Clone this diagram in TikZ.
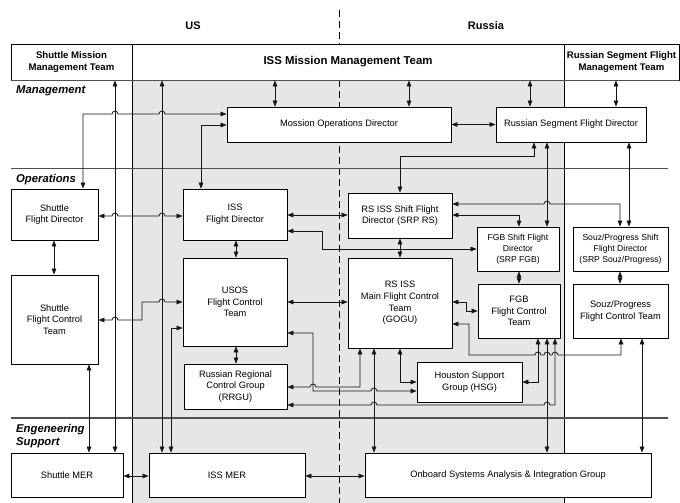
\documentclass[tikz,border=0pt]{standalone}
\usepackage{fontspec}
\setmainfont{Liberation Sans}
\usetikzlibrary{arrows.meta,calc}
\definecolor{Zone}{RGB}{230,230,230}
\definecolor{Rule}{RGB}{80,80,80}
\definecolor{Wire}{RGB}{20,20,20}

%% hop over a crossing line (path going right)
\newcommand{\hopR}[2]{to (#1-3,#2) arc[start angle=180, end angle=360, radius=3]}

\begin{document}
\begin{tikzpicture}[x=1pt, y=-1pt,
    box/.style={draw=black, fill=white, line width=0.8pt, inner sep=1pt, align=center,
        font=\fontsize{9.3}{11.6}\selectfont},
    smallbox/.style={box, font=\fontsize{8.6}{10.8}\selectfont},
    headbox/.style={box, font=\bfseries\fontsize{9.6}{11.4}\selectfont},
    wh/.style 2 args={minimum width=#1pt, minimum height=#2pt},
    link/.style={draw=Wire, line width=0.75pt,
        {Triangle[length=6pt,width=4.6pt]}-{Triangle[length=6pt,width=4.6pt]}},
    zonelabel/.style={inner sep=0pt, font=\bfseries\itshape\fontsize{11.3}{13.4}\selectfont},
    country/.style={inner sep=0pt, font=\bfseries\fontsize{11}{13}\selectfont},
    region/.style={draw=black, line width=0.8pt},
    band/.style={draw=Rule, line width=1.6pt}]

    \useasboundingbox (0,0) rectangle (680,503);

    %% Background
    \fill[Zone] (132,80) rectangle (564,503);
    \draw[region] (132,44) to (132,503);
    \draw[region] (564,44) to (564,503);
    \draw[region, dash pattern=on 7pt off 4pt] (339,10) to (339,44);
    \draw[region, dash pattern=on 7pt off 4pt] (339,80) to (339,503);
    \draw[band] (11,168.5) to (668,168.5);
    \draw[band] (11,418) to (668,418);

    \node[country, anchor=base] (us) at (193,30) {US};
    \node[country, anchor=base] (russia) at (486,30) {Russia};
    \node[zonelabel, anchor=base west] (mgmt) at (16,93.5) {Management};
    \node[zonelabel, anchor=base west] (ops) at (16,182) {Operations};
    \node[zonelabel, anchor=west, align=left] (eng) at (16,436) {Engeneering\\Support};

    %% Teams
    \node[headbox, wh={121}{36}] (smmt) at (71.5,62) {Shuttle Mission\\Management Team};
    \node[box, wh={432}{36}, font=\bfseries\fontsize{11.4}{13}\selectfont] (issmmt) at (348,62) {ISS Mission Management Team};
    \node[headbox, wh={115}{36}] (rsfmt) at (621.5,62) {Russian Segment Flight\\Management Team};
    \draw[band, line width=1.2pt] (smmt.south west) to (rsfmt.south east);

    \node[box, wh={224}{35}] (mod) at (339,124.5) {Mossion Operations Director};
    \node[box, wh={150}{35}] (rsfd) at (571,124.5) {Russian Segment Flight Director};

    \node[box, wh={87}{51}] (sfd) at (54.5,214.5) {Shuttle\\Flight Director};
    \node[box, wh={104}{51}] (issfd) at (235,214.5) {ISS\\Flight Director};
    \node[box, wh={104}{45}] (rssfd) at (400,215.5) {RS ISS Shift Flight\\Director (SRP RS)};
    \node[smallbox, wh={82}{44}] (fgbsfd) at (518,249) {FGB Shift Flight\\Director\\(SRP FGB)};
    \node[smallbox, wh={95}{44}] (spsfd) at (620.5,249) {Souz/Progress Shift\\Flight Director\\(SRP Souz/Progress)};

    \node[box, wh={87}{89}] (sfct) at (54.5,319.5) {Shuttle\\Flight Control\\Team};
    \node[box, wh={104}{88}] (usos) at (235,302) {USOS\\Flight Control\\Team};
    \node[box, wh={104}{90}] (rsmain) at (400,303) {RS ISS\\Main Flight Control\\Team\\(GOGU)};
    \node[box, wh={82}{54}] (fgbfct) at (519,311) {FGB\\Flight Control\\Team};
    \node[box, wh={95}{54}] (spfct) at (620.5,311) {Souz/Progress\\Flight Control Team};
    \node[box, wh={103}{45}] (rrgu) at (235.5,386.5) {Russian Regional\\Control Group\\(RRGU)};
    \node[box, wh={105}{40}] (hsg) at (469.5,382) {Houston Support\\Group (HSG)};

    \node[box, wh={112}{44}] (smer) at (67,475) {Shuttle MER};
    \node[box, wh={156}{44}] (issmer) at (227,475) {ISS MER};
    \node[box, wh={286}{44}] (osaig) at (508,475) {Onboard Systems Analysis \& Integration Group};

    %% Management links
    \draw[link] (issmmt.south -| 275,0) to (mod.north -| 275,0);
    \draw[link] (issmmt.south -| 409,0) to (mod.north -| 409,0);
    \draw[link] (issmmt.south -| 530,0) to (rsfd.north -| 530,0);
    \draw[link] (rsfmt.south -| 616,0) to (rsfd.north -| 616,0);
    \draw[link] (mod.east) to (rsfd.west);
    \draw[link] (sfd.north -| 83,0) to (83,114) \hopR{115}{114} \hopR{162}{114} to (mod.west |- 0,114);
    \draw[link] (issfd.north -| 201,0) to (201,125) to (mod.west |- 0,125);
    \draw[link] (smmt.south -| 115,0) to (smer.north -| 115,0);
    \draw[link] (issmmt.south -| 162,0) to (issmer.north -| 162,0);
    \draw[link] (rsfd.south -| 534,0) to (534,156) to (400,156) to (rssfd.north);
    \draw[link] (rsfd.south -| 547,0) to (fgbsfd.north -| 547,0);
    \draw[link] (rsfd.south -| 629,0) to (spsfd.north -| 629,0);

    %% Operations links
    \draw[link] (sfd.east |- 0,216) \hopR{115}{216} \hopR{162}{216} to (issfd.west |- 0,216);
    \draw[link] (sfd.south -| 54,0) to (sfct.north -| 54,0);
    \draw[link] (sfct.east |- 0,320) \hopR{115}{320} to (142,320) to (142,302) \hopR{162}{302} to (usos.west |- 0,302);
    \draw[link] (usos.west |- 0,328) to (171,328) to (issmer.north -| 171,0);
    \draw[link] (issfd.south -| 236,0) to (usos.north -| 236,0);
    \draw[link] (usos.south -| 236,0) to (rrgu.north -| 236,0);
    \draw[link] (issfd.east |- 0,215) to (rssfd.west |- 0,215);
    \draw[link] (issfd.east |- 0,231) to (322,231) to (322,249) to (fgbsfd.west |- 0,249);
    \draw[link] (usos.east |- 0,302) to (rsmain.west |- 0,302);
    \draw[link] (usos.east |- 0,333) to (313,333) to (313,391) \hopR{374}{391} to (hsg.west |- 0,391);
    \draw[link] (rrgu.east |- 0,387) \hopR{313}{387} to (360,387) to (rsmain.south -| 360,0);
    \draw[link] (rrgu.east |- 0,405) \hopR{374}{405} \hopR{547}{405} to (555,405) to (fgbfct.south -| 555,0);
    \draw[link] (rsmain.south -| 374,0) to (osaig.north -| 374,0);
    \draw[link] (rsmain.south -| 400,0) to (400,382) to (hsg.west |- 0,382);
    \draw[link] (rssfd.south) to (rsmain.north);
    \draw[link] (rssfd.east |- 0,204) \hopR{547}{204} to (620,204) to (spsfd.north -| 620,0);
    \draw[link] (rssfd.east |- 0,215) to (519,215) to (fgbsfd.north -| 519,0);
    \draw[link] (fgbsfd.south -| 519,0) to (fgbfct.north -| 519,0);
    \draw[link] (spsfd.south -| 620,0) to (spfct.north -| 620,0);
    \draw[link] (rsmain.east |- 0,302) to (466,302) to (466,311) to (fgbfct.west |- 0,311);
    \draw[link] (rsmain.east |- 0,324) to (469,324) to (469,355) \hopR{538}{355} \hopR{547}{355} \hopR{555}{355} to (621,355) to (spfct.south -| 621,0);
    \draw[link] (hsg.east |- 0,382) to (538,382) to (fgbfct.south -| 538,0);
    \draw[link] (fgbfct.south -| 547,0) to (osaig.north -| 547,0);
    \draw[link] (spfct.south -| 642,0) to (osaig.north -| 642,0);

    %% Engineering links
    \draw[link] (sfct.south -| 89,0) to (smer.north -| 89,0);
    \draw[link] (smer.east |- 0,476) to (issmer.west |- 0,476);
    \draw[link] (issmer.east |- 0,476) to (osaig.west |- 0,476);
\end{tikzpicture}
\end{document}
